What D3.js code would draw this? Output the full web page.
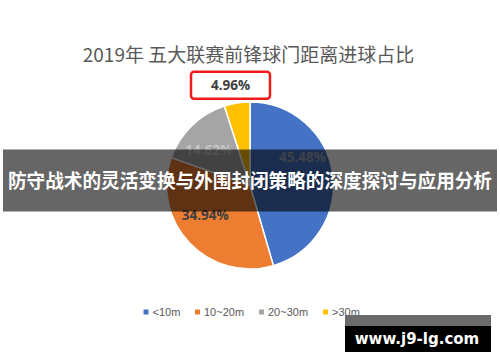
<!DOCTYPE html>
<html><head><meta charset="utf-8">
<script src="https://cdn.jsdelivr.net/npm/d3@7"></script>
<style>body{margin:0;background:#fff}svg{display:block}</style>
</head><body>
<script>
const title = "2019年 五大联赛前锋球门距离进球占比";
const categories = ["<10m", "10~20m", "20~30m", ">30m"];
const values = [45.48, 34.94, 14.62, 4.96];
const colors = ["#4472C4", "#ED7D31", "#A5A5A5", "#FFC000"];
const bannerText = "防守战术的灵活变换与外围封闭策略的深度探讨与应用分析";
const watermark = "www.j9-lg.com";

const W = 500, H = 362;
const svg = d3.select("body").append("svg").attr("width", W).attr("height", H);
svg.append("rect").attr("width", W).attr("height", H).attr("fill", "#fff");

svg.append("text").attr("x", 248.5).attr("y", 62).attr("text-anchor", "middle")
  .attr("font-family", "'Noto Sans CJK SC', sans-serif").attr("font-size", 19)
  .attr("fill", "#595959").text(title);

const cx = 250, cy = 185.5, R = 83.5;
const pie = d3.pie().sort(null).value(d => d)(values);
const arc = d3.arc().innerRadius(0).outerRadius(R);
const g = svg.append("g").attr("transform", `translate(${cx},${cy})`);
g.selectAll("path").data(pie).join("path")
  .attr("d", arc).attr("fill", (d, i) => colors[i])
  .attr("stroke", "#fff").attr("stroke-width", 1.5);

// labels
const labelArc = d3.arc().innerRadius(52).outerRadius(52);
const outArc = d3.arc().innerRadius(100).outerRadius(100);
const nudge = [[1, -21], [-7, -6], [-5, 1.5], [-4, -1.5]];
const labelFill = ["#9aa4b4", "#404040", "#c8c8c8", "#404040"];
pie.forEach((d, i) => {
  const inside = values[i] > 10;
  const c = inside ? labelArc.centroid(d) : outArc.centroid(d);
  const x = c[0] + nudge[i][0], y = c[1] + nudge[i][1];
  const txt = values[i].toFixed(2) + "%";
  if (!inside) {
    g.append("rect").attr("x", x - 39.5).attr("y", y - 13.5).attr("width", 79).attr("height", 27)
      .attr("rx", 3).attr("fill", "#fff").attr("stroke", "#EE1C1C").attr("stroke-width", 2.5);
  }
  g.append("text").attr("x", x).attr("y", y).attr("dy", "0.36em")
    .attr("text-anchor", "middle").attr("font-family", "'Open Sans', 'Liberation Sans', sans-serif")
    .attr("font-weight", "bold").attr("font-size", 13.5).attr("fill", labelFill[i]).text(txt);
});

// legend
const legendX = [146, 197.5, 261.5, 325.5];
const lg = svg.append("g");
categories.forEach((c, i) => {
  lg.append("rect").attr("x", legendX[i] - 2.5).attr("y", 309.5).attr("width", 5).attr("height", 5).attr("fill", colors[i]);
  lg.append("text").attr("x", legendX[i] + 6.5).attr("y", 312).attr("dy", "0.36em")
    .attr("font-family", "'Liberation Sans', Arial, sans-serif").attr("font-size", 11)
    .attr("fill", "#595959").text(c);
});

// banner overlay
svg.append("rect").attr("x", 3).attr("y", 149.5).attr("width", 494).attr("height", 62).attr("fill", "rgba(0,0,0,0.6)");
svg.append("text").attr("x", 250).attr("y", 181).attr("dy", "0.36em").attr("text-anchor", "middle")
  .attr("font-family", "'Noto Sans CJK SC', sans-serif").attr("font-weight", "bold")
  .attr("font-size", 19).attr("textLength", 484).attr("lengthAdjust", "spacingAndGlyphs")
  .attr("fill", "#fff").text(bannerText);

// watermark
svg.append("rect").attr("x", 345).attr("y", 315).attr("width", 146).attr("height", 11).attr("fill", "#6b6b6b");
svg.append("rect").attr("x", 345).attr("y", 326).attr("width", 146).attr("height", 26).attr("fill", "#000");
svg.append("text").attr("x", 417).attr("y", 339).attr("dy", "0.36em").attr("text-anchor", "middle")
  .attr("font-family", "'DejaVu Sans', sans-serif").attr("font-weight", "bold")
  .attr("font-size", 15).attr("fill", "#fff").text(watermark);
</script>
</body></html>
